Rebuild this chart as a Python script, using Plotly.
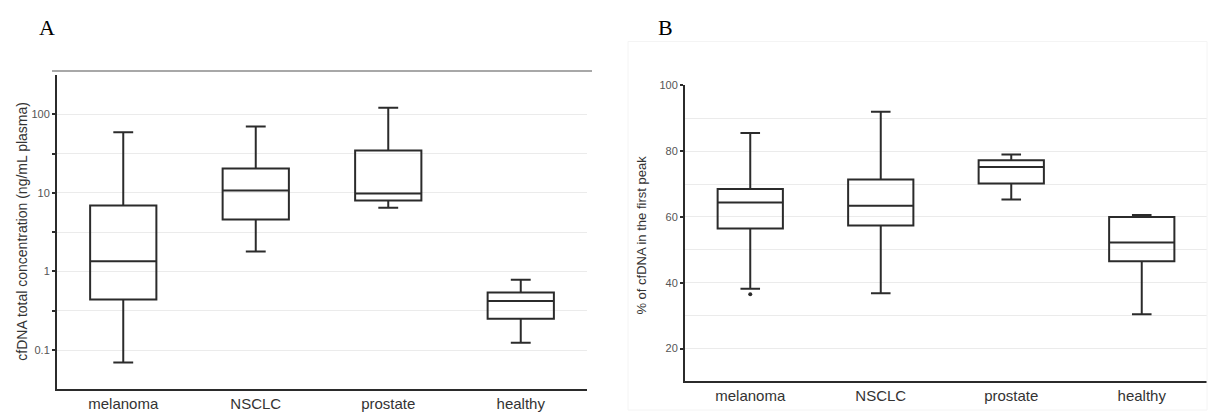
import plotly.graph_objects as go

categories = ["melanoma", "NSCLC", "prostate", "healthy"]

# Panel A: cfDNA total concentration (ng/mL plasma), log scale
conc_lower = [0.0695, 1.8, 6.45, 0.124]
conc_q1 = [0.44, 4.59, 8.0, 0.25]
conc_median = [1.35, 10.7, 9.8, 0.42]
conc_q3 = [6.9, 20.4, 34.6, 0.54]
conc_upper = [59, 70, 121, 0.787]
conc_tickvals = [0.1, 0.316, 1, 3.16, 10, 31.6, 100]
conc_ticktext = ["0.1", "", "1", "", "10", "", "100"]

# Panel B: % of cfDNA in the first peak
peak_lower = [38.2, 36.8, 65.3, 30.4]
peak_q1 = [56.5, 57.4, 70.2, 46.5]
peak_median = [64.4, 63.4, 75.2, 52.2]
peak_q3 = [68.5, 71.4, 77.2, 60.0]
peak_upper = [85.5, 92.0, 79.0, 60.6]
peak_outlier_cat = ["melanoma"]
peak_outlier_val = [36.5]

W, H = 1208, 412
LINE = "#2b2b2b"
GRID = "#ebebeb"
FONT = "Liberation Sans, Arial, sans-serif"
SERIF = "Liberation Serif, Times New Roman, serif"

fig = go.Figure()
fig.add_trace(go.Box(
    x=categories, q1=conc_q1, median=conc_median, q3=conc_q3,
    lowerfence=conc_lower, upperfence=conc_upper,
    boxpoints=False, width=0.5, whiskerwidth=0.3,
    line=dict(color=LINE, width=2), fillcolor="rgba(255,255,255,0)",
    xaxis="x", yaxis="y", showlegend=False, hoverinfo="skip"))
fig.add_trace(go.Box(
    x=categories, q1=peak_q1, median=peak_median, q3=peak_q3,
    lowerfence=peak_lower, upperfence=peak_upper,
    boxpoints=False, width=0.5, whiskerwidth=0.3,
    line=dict(color=LINE, width=2), fillcolor="rgba(255,255,255,0)",
    xaxis="x2", yaxis="y2", showlegend=False, hoverinfo="skip"))
fig.add_trace(go.Scatter(
    x=peak_outlier_cat, y=peak_outlier_val, mode="markers",
    marker=dict(color=LINE, size=4), xaxis="x2", yaxis="y2",
    showlegend=False, hoverinfo="skip"))

def px_x(p):
    return p / W

def px_y(p):
    return (H - p) / H

xcommon = dict(type="category", range=[-0.5, 3.5], showline=True, linecolor=LINE,
               linewidth=2, ticks="", showgrid=False, zeroline=False,
               tickfont=dict(family=FONT, size=15, color="#333"), fixedrange=True)

def ann(text, x, y, size, family, angle=0, color="#333"):
    return dict(text=text, x=px_x(x), y=px_y(y), xref="paper", yref="paper",
                xanchor="center", yanchor="middle", showarrow=False,
                textangle=angle, font=dict(family=family, size=size, color=color))

fig.update_layout(
    width=W, height=H, margin=dict(l=0, r=0, t=0, b=0),
    paper_bgcolor="white", plot_bgcolor="white",
    xaxis=dict(domain=[px_x(57), px_x(587)], anchor="y", **xcommon),
    yaxis=dict(domain=[px_y(389), px_y(70)], anchor="x", type="log", range=[-1.5, 2.5],
               tickvals=conc_tickvals, ticktext=conc_ticktext,
               showline=True, linecolor=LINE, linewidth=2,
               ticks="outside", ticklen=3, tickwidth=2, tickcolor=LINE,
               showgrid=True, gridcolor=GRID, gridwidth=1, zeroline=False,
               tickfont=dict(family=FONT, size=11, color="#555")),
    xaxis2=dict(domain=[px_x(685), px_x(1207)], anchor="y2", **xcommon),
    yaxis2=dict(domain=[px_y(381), px_y(80.5)], anchor="x2", range=[10, 100],
                tickvals=[20, 40, 60, 80, 100],
                showline=True, linecolor=LINE, linewidth=2,
                ticks="outside", ticklen=3, tickwidth=1.5, tickcolor=LINE,
                showgrid=True, gridcolor=GRID, gridwidth=1, zeroline=False,
                minor=dict(dtick=10, showgrid=True, gridcolor=GRID, ticks=""),
                tickfont=dict(family=FONT, size=11, color="#555")),
    shapes=[
        dict(type="line", xref="paper", yref="paper",
             x0=px_x(52), x1=px_x(592), y0=px_y(66), y1=px_y(66),
             line=dict(color="#a8a8a8", width=2)),
        dict(type="rect", xref="paper", yref="paper",
             x0=px_x(628), x1=px_x(1207), y0=px_y(410), y1=px_y(36),
             line=dict(color="#f4f4f4", width=1)),
    ],
    annotations=[
        ann("A", 47, 22, 22, SERIF, color="black"),
        ann("B", 665, 22, 22, SERIF, color="black"),
        ann("cfDNA total concentration (ng/mL plasma)", 22, 229, 14, FONT, angle=-90),
        ann("% of cfDNA in the first peak", 642, 233, 13, FONT, angle=-90),
    ],
)

fig.write_html("out.html", config={"displayModeBar": False},
               post_script="document.body.style.margin='0px';document.body.style.padding='0px';")
